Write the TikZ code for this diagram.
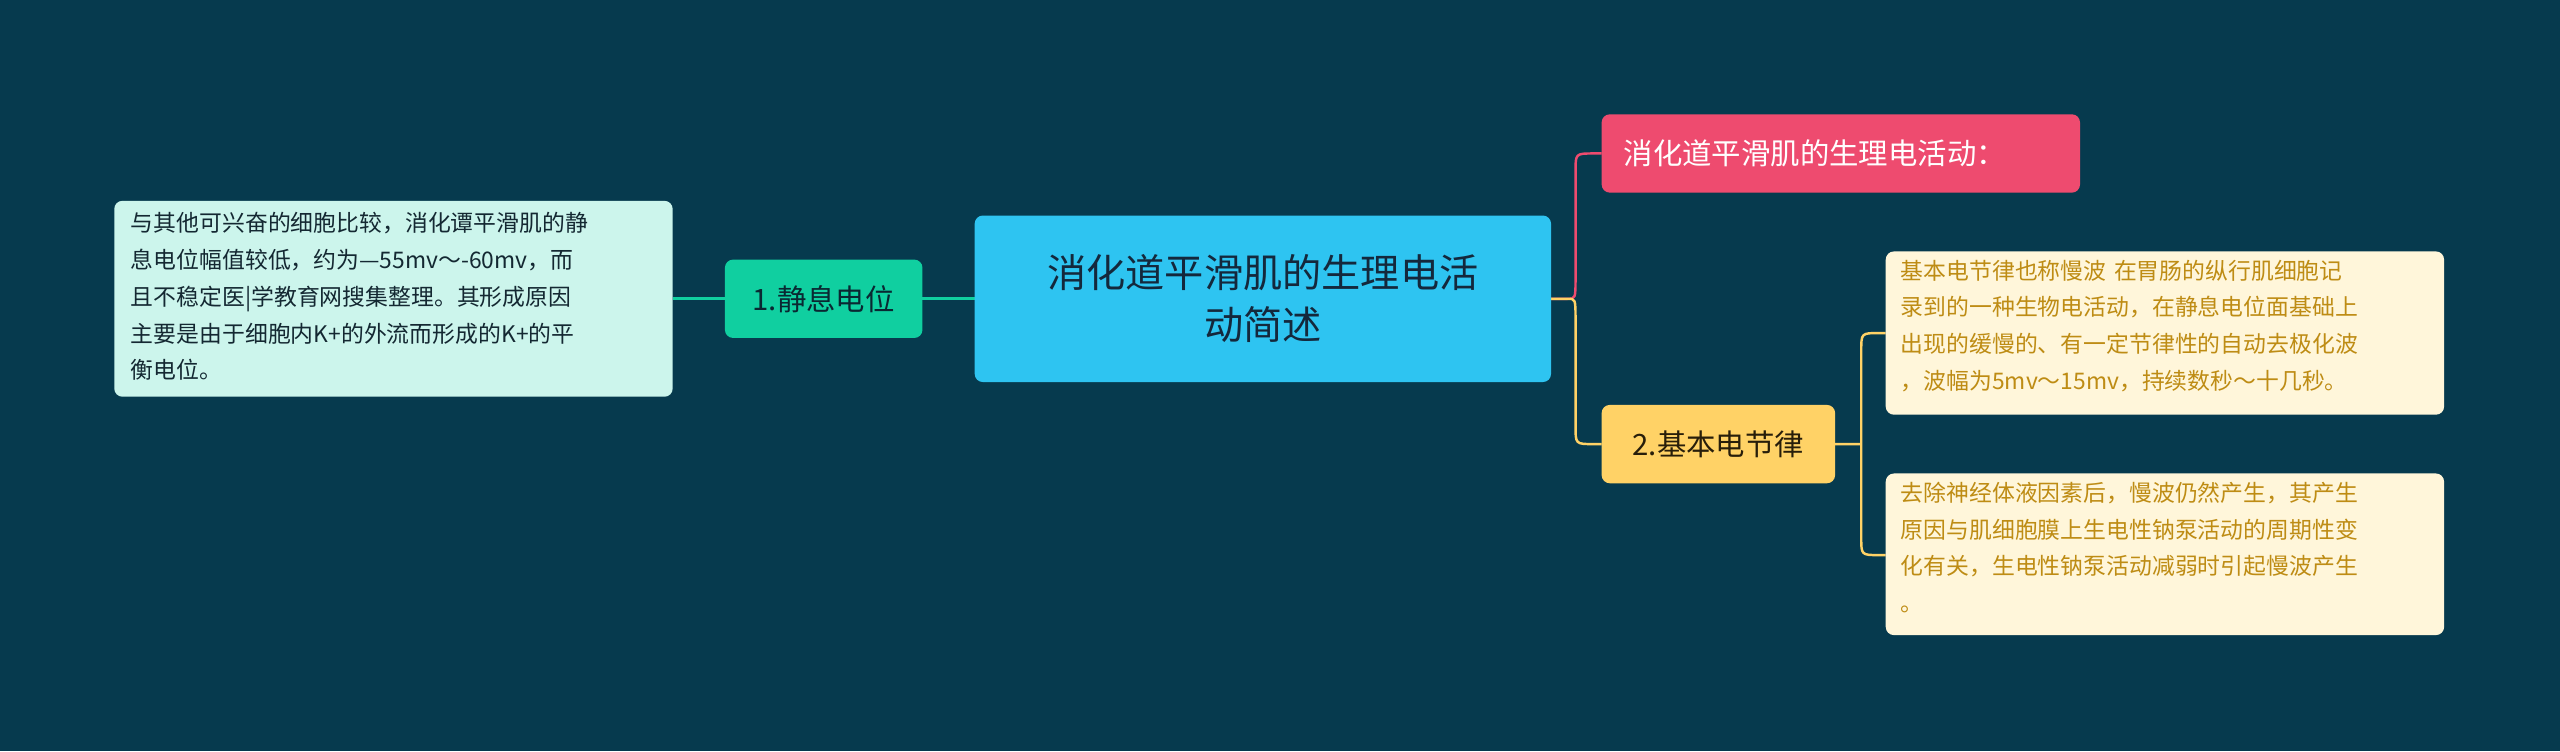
\documentclass[tikz,border=0pt]{standalone}
\usepackage{fontspec}
\setmainfont{Noto Sans CJK SC}
\begin{document}
\begin{tikzpicture}[x=1pt,y=-1pt,
 box/.style={rounded corners=5pt,inner sep=0pt,anchor=north west},
 small/.style={font=\fontsize{14}{22.5}\selectfont,align=left,text width=#1,anchor=north west,inner sep=0pt}]
\fill[fill={rgb,255:red,6;green,58;blue,78}] (0,0) rectangle (1568,460);
\definecolor{cen}{RGB}{46,196,241}
\definecolor{grn}{RGB}{16,207,160}
\definecolor{pnk}{RGB}{238,75,111}
\definecolor{yel}{RGB}{255,210,102}
\definecolor{ltg}{RGB}{204,245,236}
\definecolor{lty}{RGB}{255,246,218}
\definecolor{gold}{RGB}{190,140,20}
% connectors
\coordinate (cl) at (597,183); \coordinate (cr) at (950,183);
\draw[grn,line width=2pt] (412,183) -- (444,183);
\draw[grn,line width=2pt] (565,183) -- (597,183);
\draw[pnk,line width=1.5pt] (950,183) -- (960,183) .. controls (965,183) and (965,183) .. (965,170) -- (965,105) .. controls (965,94) .. (976,94) -- (981,94);
\draw[yel,line width=1.5pt] (950,183) -- (960,183) .. controls (965,183) and (965,183) .. (965,196) -- (965,261) .. controls (965,272) .. (976,272) -- (981,272);
\draw[yel,line width=1.5pt] (1124,272) -- (1140,272) (1140,215) -- (1140,329)
 (1140,215) .. controls (1140,204) .. (1151,204) -- (1155,204)
 (1140,329) .. controls (1140,340) .. (1151,340) -- (1155,340);
% nodes
\fill[cen,rounded corners=5pt] (597,132) rectangle (950,234);
\node[font=\fontsize{24}{32}\selectfont,align=center,text={rgb,255:red,20;green,40;blue,60}] (c) at (773.5,183) {消化道平滑肌的生理电活\\动简述};
\fill[grn,rounded corners=5pt] (444,159) rectangle (565,207);
\node[font=\fontsize{18}{22}\selectfont,text={rgb,255:red,10;green,40;blue,50}] (a) at (504.5,183) {1.静息电位};
\fill[ltg,rounded corners=5pt] (70,123) rectangle (412,243);
\node[small=335pt,text={rgb,255:red,20;green,40;blue,50}] (at) at (80,130) {与其他可兴奋的细胞比较，消化谭平滑肌的静\\息电位幅值较低，约为—55mv～-60mv，而\\且不稳定医|学教育网搜集整理。其形成原因\\主要是由于细胞内K+的外流而形成的K+的平\\衡电位。};
\fill[pnk,rounded corners=5pt] (981,70) rectangle (1274,118);
\node[font=\fontsize{18}{22}\selectfont,text=white,anchor=west] (p) at (991,94) {消化道平滑肌的生理电活动：};
\fill[yel,rounded corners=5pt] (981,248) rectangle (1124,296);
\node[font=\fontsize{18}{22}\selectfont,text={rgb,255:red,40;green,30;blue,10}] (y) at (1052.5,272) {2.基本电节律};
\fill[lty,rounded corners=5pt] (1155,154) rectangle (1497,254);
\node[small=335pt,text=gold] (b1) at (1164,159) {基本电节律也称慢波 在胃肠的纵行肌细胞记\\录到的一种生物电活动，在静息电位面基础上\\出现的缓慢的、有一定节律性的自动去极化波\\，波幅为5mv～15mv，持续数秒～十几秒。};
\fill[lty,rounded corners=5pt] (1155,290) rectangle (1497,389);
\node[small=335pt,text=gold] (b2) at (1164,295) {去除神经体液因素后，慢波仍然产生，其产生\\原因与肌细胞膜上生电性钠泵活动的周期性变\\化有关，生电性钠泵活动减弱时引起慢波产生\\。};
\end{tikzpicture}
\end{document}
